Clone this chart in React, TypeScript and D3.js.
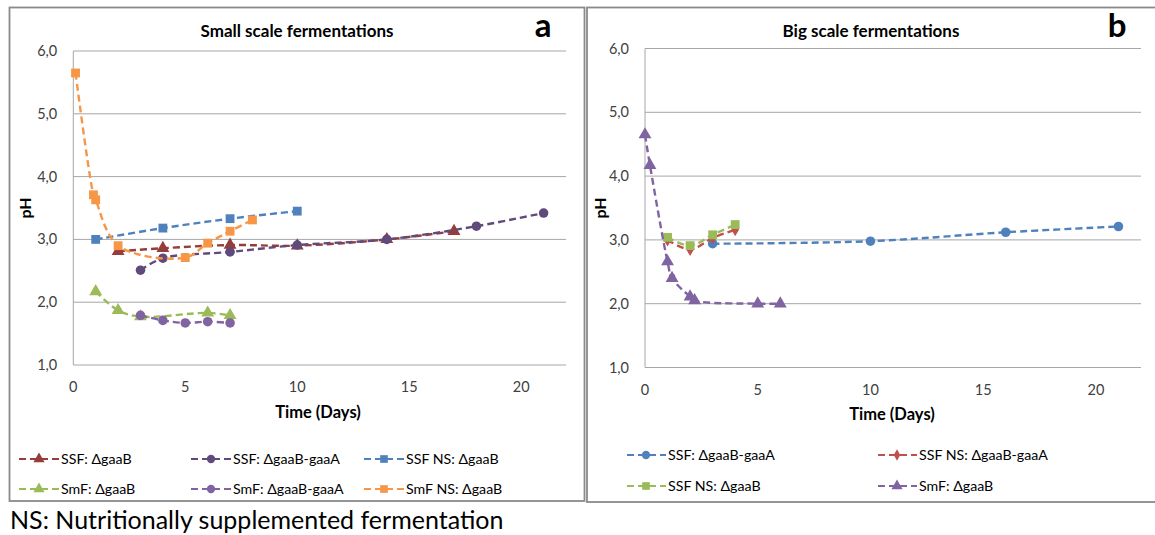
import React from "react";
import * as d3 from "d3";

// ---------- axis ticks ----------
const Y_TICKS = [1, 2, 3, 4, 5, 6];
const X_TICKS = [0, 5, 10, 15, 20];
const X_DOMAIN = [0, 22];
const Y_DOMAIN = [1, 6];

// ---------- panel a : small scale ----------
const smallSsfGaaBDays = [2, 4, 7, 10, 14, 17];
const smallSsfGaaBPh = [2.81, 2.86, 2.91, 2.9, 3.0, 3.13];
const smallSsfGaaBGaaADays = [3, 4, 7, 10, 14, 18, 21];
const smallSsfGaaBGaaAPh = [2.51, 2.7, 2.8, 2.91, 3.0, 3.21, 3.42];
const smallSsfNsGaaBDays = [1, 4, 7, 10];
const smallSsfNsGaaBPh = [3.0, 3.18, 3.33, 3.45];
const smallSmfGaaBDays = [1, 2, 3, 6, 7];
const smallSmfGaaBPh = [2.17, 1.87, 1.77, 1.83, 1.79];
const smallSmfGaaBGaaADays = [3, 4, 5, 6, 7];
const smallSmfGaaBGaaAPh = [1.79, 1.71, 1.67, 1.69, 1.67];
const smallSmfNsGaaBDays = [0.1, 0.9, 1, 2, 5, 6, 7, 8];
const smallSmfNsGaaBPh = [5.65, 3.71, 3.63, 2.9, 2.71, 2.94, 3.13, 3.31];

// ---------- panel b : big scale ----------
const bigSsfGaaBGaaADays = [3, 10, 16, 21];
const bigSsfGaaBGaaAPh = [2.94, 2.98, 3.12, 3.21];
const bigSsfNsGaaBGaaADays = [1, 2, 3, 4];
const bigSsfNsGaaBGaaAPh = [3.0, 2.85, 3.03, 3.16];
const bigSsfNsGaaBDays = [1, 2, 3, 4];
const bigSsfNsGaaBPh = [3.04, 2.91, 3.08, 3.24];
const bigSmfGaaBDays = [0, 0.22, 1, 1.2, 2, 2.2, 5, 6];
const bigSmfGaaBPh = [4.65, 4.17, 2.66, 2.4, 2.11, 2.05, 2.0, 2.0];
const bigSmfGaaBErr = [0, 0, 0, 0.045, 0, 0.025, 0, 0];

type Marker = "triangle" | "circle" | "square" | "diamond";
interface Series {
  name: string;
  color: string;
  marker: Marker;
  x: number[];
  y: number[];
  err?: number[];
}

const seriesA: Series[] = [
  { name: "SSF: ΔgaaB", color: "#963C3A", marker: "triangle", x: smallSsfGaaBDays, y: smallSsfGaaBPh },
  { name: "SSF: ΔgaaB-gaaA", color: "#604A7B", marker: "circle", x: smallSsfGaaBGaaADays, y: smallSsfGaaBGaaAPh },
  { name: "SSF NS: ΔgaaB", color: "#4F81BD", marker: "square", x: smallSsfNsGaaBDays, y: smallSsfNsGaaBPh },
  { name: "SmF: ΔgaaB", color: "#9BBB59", marker: "triangle", x: smallSmfGaaBDays, y: smallSmfGaaBPh },
  { name: "SmF: ΔgaaB-gaaA", color: "#8064A2", marker: "circle", x: smallSmfGaaBGaaADays, y: smallSmfGaaBGaaAPh },
  { name: "SmF NS: ΔgaaB", color: "#F79646", marker: "square", x: smallSmfNsGaaBDays, y: smallSmfNsGaaBPh },
];

const seriesB: Series[] = [
  { name: "SSF: ΔgaaB-gaaA", color: "#4F81BD", marker: "circle", x: bigSsfGaaBGaaADays, y: bigSsfGaaBGaaAPh },
  { name: "SSF NS: ΔgaaB-gaaA", color: "#C0504D", marker: "diamond", x: bigSsfNsGaaBGaaADays, y: bigSsfNsGaaBGaaAPh },
  { name: "SSF NS: ΔgaaB", color: "#9BBB59", marker: "square", x: bigSsfNsGaaBDays, y: bigSsfNsGaaBPh },
  { name: "SmF: ΔgaaB", color: "#8064A2", marker: "triangle", x: bigSmfGaaBDays, y: bigSmfGaaBPh, err: bigSmfGaaBErr },
];

const FONT = "Lato, 'Open Sans', sans-serif";
const GRID = "#A6A6A6";
const TICK_COLOR = "#404040";

const symbolType: Record<Marker, d3.SymbolType> = {
  triangle: d3.symbolTriangle,
  circle: d3.symbolCircle,
  square: d3.symbolSquare,
  diamond: d3.symbolDiamond,
};
const symbolSize: Record<Marker, number> = {
  triangle: 72,
  circle: 72,
  square: 78,
  diamond: 50,
};

interface PanelProps {
  series: Series[];
  left: number;
  right: number;
  top: number;
  bottom: number;
  title: string;
  titleX: number;
  letter: string;
  letterX: number;
  xLabelY: number;
  xTitleX: number;
  xTitleY: number;
  yTitleX: number;
  legendCols: number[];
  legendRows: number[];
  legendLine: number;
  legendTextGap: number;
}

function Panel(p: PanelProps) {
  const x = d3.scaleLinear().domain(X_DOMAIN).range([p.left, p.right]);
  const y = d3.scaleLinear().domain(Y_DOMAIN).range([p.bottom, p.top]);
  const line = d3
    .line<[number, number]>()
    .x((d) => x(d[0]))
    .y((d) => y(d[1]))
    .curve(d3.curveCatmullRom.alpha(0.5));
  const fmt = (v: number) => d3.format(".1f")(v).replace(".", ",");
  const cols = p.legendCols.length;
  return (
    <g>
      {/* gridlines */}
      {Y_TICKS.map((t) => (
        <line key={t} x1={p.left} x2={p.right} y1={y(t)} y2={y(t)} stroke={GRID} strokeWidth={1} />
      ))}
      <line x1={p.left} x2={p.left} y1={p.top} y2={p.bottom} stroke={GRID} strokeWidth={1} />
      {/* y tick labels */}
      {Y_TICKS.map((t) => (
        <text key={t} x={p.left - 16} y={y(t)} dy="0.35em" textAnchor="end" fontSize={14.5} fill={TICK_COLOR} fontFamily={FONT}>
          {fmt(t)}
        </text>
      ))}
      {/* x tick labels */}
      {X_TICKS.map((t) => (
        <text key={t} x={x(t)} y={p.xLabelY} textAnchor="middle" fontSize={14.5} fill={TICK_COLOR} fontFamily={FONT}>
          {t}
        </text>
      ))}
      {/* series */}
      {p.series.map((s) => {
        const pts = s.x.map((d, i) => [d, s.y[i]] as [number, number]);
        return (
          <g key={s.name}>
            <path d={line(pts) || ""} fill="none" stroke={s.color} strokeWidth={2.4} strokeDasharray="7,4" />
            {s.err &&
              pts.map((d, i) =>
                s.err![i] > 0 ? (
                  <g key={"e" + i} stroke="#000" strokeWidth={1}>
                    <line x1={x(d[0])} x2={x(d[0])} y1={y(d[1] - s.err![i])} y2={y(d[1] + s.err![i])} />
                    <line x1={x(d[0]) - 3} x2={x(d[0]) + 3} y1={y(d[1] + s.err![i])} y2={y(d[1] + s.err![i])} />
                    <line x1={x(d[0]) - 3} x2={x(d[0]) + 3} y1={y(d[1] - s.err![i])} y2={y(d[1] - s.err![i])} />
                  </g>
                ) : null
              )}
            {pts.map((d, i) => (
              <path
                key={i}
                d={d3.symbol().type(symbolType[s.marker]).size(symbolSize[s.marker])() || ""}
                transform={`translate(${x(d[0])},${y(d[1])})`}
                fill={s.color}
              />
            ))}
          </g>
        );
      })}
      {/* titles */}
      <text x={p.titleX} y={37} textAnchor="middle" fontSize={17} fontWeight="bold" fontFamily={FONT} fill="#000">
        {p.title}
      </text>
      <text x={p.letterX} y={37} textAnchor="middle" fontSize={33} fontWeight="bold" fontFamily={FONT} fill="#000">
        {p.letter}
      </text>
      <text x={p.xTitleX} y={p.xTitleY} textAnchor="middle" fontSize={16.5} fontWeight="bold" fontFamily={FONT} fill="#000">
        Time (Days)
      </text>
      <text
        transform={`translate(${p.yTitleX},${(p.top + p.bottom) / 2}) rotate(-90)`}
        textAnchor="middle"
        fontSize={16}
        fontWeight="bold"
        fontFamily={FONT}
        fill="#000"
      >
        pH
      </text>
      {/* legend */}
      {p.series.map((s, i) => {
        const lx = p.legendCols[i % cols];
        const ly = p.legendRows[Math.floor(i / cols)];
        return (
          <g key={"leg" + i}>
            <line x1={lx} x2={lx + p.legendLine} y1={ly} y2={ly} stroke={s.color} strokeWidth={2.2} strokeDasharray="7,4" strokeDashoffset={-1} />
            <path
              d={d3.symbol().type(symbolType[s.marker]).size(symbolSize[s.marker] * 0.75)() || ""}
              transform={`translate(${lx + p.legendLine / 2},${ly})`}
              fill={s.color}
            />
            <text x={lx + p.legendTextGap} y={ly} dy="0.35em" fontSize={14.2} fill="#000" fontFamily={FONT}>
              {s.name}
            </text>
          </g>
        );
      })}
    </g>
  );
}

export default function App() {
  return (
    <svg
      width={1155}
      height={535}
      style={{ position: "absolute", left: 0, top: 0, background: "#fff" }}
      xmlns="http://www.w3.org/2000/svg"
    >
      <rect x={0} y={0} width={1155} height={535} fill="#fff" />
      <rect x={9.5} y={7.5} width={575} height={493.5} fill="none" stroke="#8A8A8A" strokeWidth={1.8} />
      <rect x={587} y={7.5} width={580} height={494.5} fill="none" stroke="#8A8A8A" strokeWidth={1.8} />
      <Panel
        series={seriesA}
        left={73.3}
        right={566}
        top={51}
        bottom={365}
        title="Small scale fermentations"
        titleX={297}
        letter="a"
        letterX={543}
        xLabelY={392}
        xTitleX={318}
        xTitleY={418}
        yTitleX={31}
        legendCols={[18, 190, 363]}
        legendRows={[459, 489]}
        legendLine={42}
        legendTextGap={43}
      />
      <Panel
        series={seriesB}
        left={645}
        right={1141}
        top={48.5}
        bottom={367.5}
        title="Big scale fermentations"
        titleX={871}
        letter="b"
        letterX={1117}
        xLabelY={395}
        xTitleX={892}
        xTitleY={420}
        yTitleX={606}
        legendCols={[626, 877]}
        legendRows={[455, 486]}
        legendLine={40}
        legendTextGap={42}
      />
      <text x={10} y={529} fontSize={25} fill="#000" fontFamily={FONT}>
        NS: Nutritionally supplemented fermentation
      </text>
    </svg>
  );
}
